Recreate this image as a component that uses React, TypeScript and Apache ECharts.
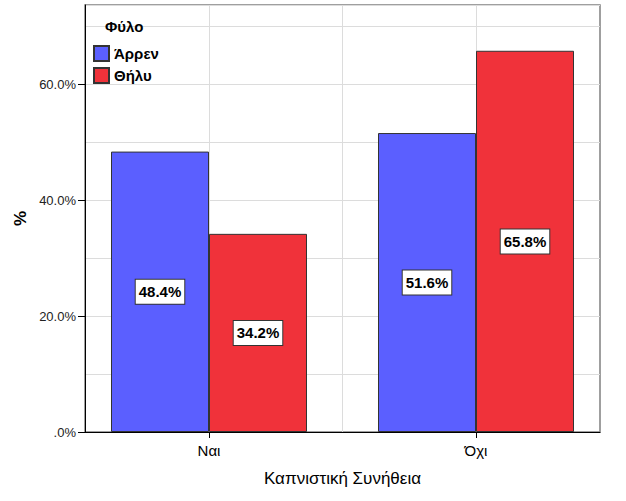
import React, { useEffect, useRef } from "react";
import * as echarts from "echarts";

const categories = ["Ναι", "Όχι"];
const seriesNames = ["Άρρεν", "Θήλυ"];
const maleValues = [48.4, 51.6];
const femaleValues = [34.2, 65.8];
const colors = ["#5b5fff", "#f0323a"];
const legendTitle = "Φύλο";
const xTitle = "Καπνιστική Συνήθεια";
const yTitle = "%";
const yMax = 73.7;

const FONT = "'Liberation Sans', Arial, sans-serif";

export default function App() {
  const ref = useRef<HTMLDivElement>(null);
  useEffect(() => {
    if (!ref.current) return;
    const chart = echarts.init(ref.current, null, { renderer: "svg" });
    const axisData: string[] = [""];
    categories.forEach((c) => {
      axisData.push(c);
      axisData.push("");
    });
    const pad = (vals: number[]) => {
      const out: any[] = ["-"];
      vals.forEach((v) => {
        out.push(v);
        out.push("-");
      });
      return out;
    };
    const isCat = (i: number) => i % 2 === 1;
    const series = [maleValues, femaleValues].map((vals, si) => ({
      name: seriesNames[si],
      type: "bar",
      xAxisIndex: 0,
      yAxisIndex: 2,
      data: pad(vals),
      barWidth: 98,
      barGap: "0%",
      itemStyle: { color: colors[si], borderColor: "#333", borderWidth: 1 },
      label: {
        show: true,
        position: "inside",
        formatter: (p: any) => Number(p.value).toFixed(1) + "%",
        backgroundColor: "#fff",
        borderColor: "#333",
        borderWidth: 1,
        padding: [5, 3, 4, 3],
        color: "#000",
        fontWeight: "bold",
        fontSize: 15,
        fontFamily: FONT,
      },
    }));
    chart.setOption({
      animation: false,
      backgroundColor: "#fff",
      textStyle: { fontFamily: FONT },
      title: {
        text: legendTitle,
        left: 100,
        top: 14,
        textStyle: { fontSize: 15, fontWeight: "bold", color: "#000", fontFamily: FONT },
      },
      legend: {
        data: seriesNames,
        orient: "vertical",
        left: 88,
        top: 40,
        itemWidth: 15,
        itemHeight: 15,
        itemGap: 5,
        icon: "rect",
        textStyle: { fontSize: 15, fontWeight: "bold", color: "#000", fontFamily: FONT },
      },
      grid: [
        { left: 75.5, width: 534, top: 5, height: 427 },
        {
          left: 85,
          width: 515,
          top: 5,
          height: 427,
          show: true,
          borderColor: "#808080",
          borderWidth: 1.5,
          backgroundColor: "transparent",
        },
      ],
      xAxis: [
        {
          gridIndex: 0,
          type: "category",
          data: axisData,
          boundaryGap: false,
          axisLine: { show: false },
          axisTick: { show: true, interval: (i: number) => isCat(i), length: 6, lineStyle: { color: "#000" } },
          axisLabel: {
            interval: (i: number) => isCat(i),
            fontSize: 15,
            color: "#000",
            margin: 11,
            fontFamily: FONT,
          },
          splitLine: { show: true, interval: (i: number) => i > 0 && i < axisData.length - 1, lineStyle: { color: "#dcdcdc" } },
          name: xTitle,
          nameLocation: "middle",
          nameGap: 38,
          nameMoveOverlap: false,
          nameTextStyle: { fontSize: 17, color: "#000", fontFamily: FONT },
        },
        {
          gridIndex: 1,
          type: "value",
          min: 0,
          max: 1,
          axisLine: { show: true, lineStyle: { color: "#000" } },
          axisTick: { show: false },
          axisLabel: { show: false },
          splitLine: { show: false },
        },
      ],
      yAxis: [
        {
          gridIndex: 1,
          type: "value",
          position: "left",
          min: 0,
          max: yMax,
          interval: 10,
          axisLine: { show: false },
          axisTick: { show: false },
          axisLabel: { show: false },
          splitLine: { show: true, lineStyle: { color: "#dcdcdc" } },
        },
        {
          gridIndex: 1,
          type: "value",
          position: "left",
          min: 0,
          max: yMax,
          interval: 20,
          axisLine: { show: true, lineStyle: { color: "#000" } },
          axisTick: { show: true, length: 7, lineStyle: { color: "#000" } },
          axisLabel: {
            formatter: (v: number) => (v === 0 ? ".0%" : v.toFixed(1) + "%"),
            fontSize: 13,
            color: "#222",
            margin: 9,
            showMaxLabel: false,
            fontFamily: FONT,
          },
          splitLine: { show: false },
          name: yTitle,
          nameLocation: "middle",
          nameGap: 56,
          nameMoveOverlap: false,
          nameTextStyle: { fontSize: 17, fontWeight: "bold", color: "#000", fontFamily: FONT },
        },
        {
          gridIndex: 0,
          type: "value",
          min: 0,
          max: yMax,
          show: false,
        },
      ],
      series,
    });
    return () => chart.dispose();
  }, []);
  return (
    <div
      ref={ref}
      style={{ position: "fixed", left: 0, top: 0, width: 626, height: 501 }}
    />
  );
}
